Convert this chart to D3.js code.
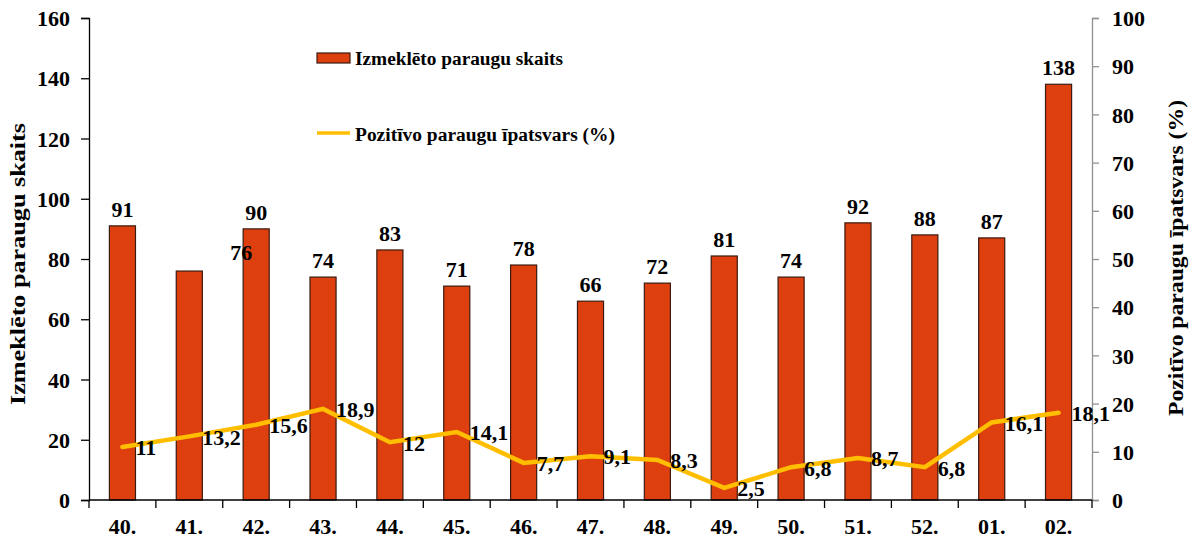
<!DOCTYPE html>
<html>
<head>
<meta charset="utf-8">
<script src="https://cdn.jsdelivr.net/npm/d3@7"></script>
<style>
  html, body { margin: 0; padding: 0; background: #fff; }
  text { font-family: "Liberation Serif", "Times New Roman", serif; font-weight: bold; fill: #000; }
</style>
</head>
<body>
<svg id="chart" width="1195" height="544"></svg>
<script>
// Weekly counts of examined samples and share of positive samples
const weeks = ["40.", "41.", "42.", "43.", "44.", "45.", "46.", "47.", "48.", "49.", "50.", "51.", "52.", "01.", "02."];
const samples = [91, 76, 90, 74, 83, 71, 78, 66, 72, 81, 74, 92, 88, 87, 138];
const positiveShare = [11, 13.2, 15.6, 18.9, 12, 14.1, 7.7, 9.1, 8.3, 2.5, 6.8, 8.7, 6.8, 16.1, 18.1];
const leftTicks = [0, 20, 40, 60, 80, 100, 120, 140, 160];
const rightTicks = [0, 10, 20, 30, 40, 50, 60, 70, 80, 90, 100];
const barName = "Izmeklēto paraugu skaits";
const lineName = "Pozitīvo paraugu īpatsvars (%)";

const svg = d3.select("#chart");
const plot = { left: 89, right: 1092, top: 18, bottom: 500 };

const x = d3.scaleBand().domain(weeks).range([plot.left, plot.right]).paddingInner(0.61).paddingOuter(0.305);
const xBand = d3.scaleBand().domain(weeks).range([plot.left, plot.right]);
const yL = d3.scaleLinear().domain([0, 160]).range([plot.bottom, plot.top]);
const yR = d3.scaleLinear().domain([0, 100]).range([plot.bottom, plot.top]);

const fmt = v => String(v).replace(".", ",");

// Bars
svg.append("g").selectAll("rect").data(samples).join("rect")
  .attr("x", (d, i) => x(weeks[i]))
  .attr("y", d => yL(d))
  .attr("width", x.bandwidth())
  .attr("height", d => yL(0) - yL(d))
  .attr("fill", "#DE3F0E")
  .attr("stroke", "#3a1a10")
  .attr("stroke-width", 1.2);

// Left axis
const gL = svg.append("g").attr("transform", `translate(${plot.left},0)`)
  .call(d3.axisLeft(yL).tickValues(leftTicks).tickSize(8).tickPadding(11));
gL.select(".domain").attr("stroke", "#000").attr("stroke-width", 1.3);
gL.selectAll(".tick line").attr("stroke", "#000").attr("stroke-width", 1.3);
gL.selectAll(".tick text").style("font-size", "22px").attr("dy", "0.35em");

// Right axis
const gR = svg.append("g").attr("transform", `translate(${plot.right},0)`)
  .call(d3.axisRight(yR).tickValues(rightTicks).tickSize(7).tickPadding(13));
gR.select(".domain").attr("stroke", "#909090").attr("stroke-width", 1.3);
gR.selectAll(".tick line").attr("stroke", "#909090").attr("stroke-width", 1.3);
gR.selectAll(".tick text").style("font-size", "22px").attr("dy", "0.35em");

// Bottom axis: ticks at category boundaries
const gB = svg.append("g").attr("transform", `translate(0,${plot.bottom})`);
gB.append("line").attr("x1", plot.left).attr("x2", plot.right).attr("stroke", "#000").attr("stroke-width", 1.3);
const bounds = weeks.map(w => xBand(w)).concat([plot.right]);
gB.selectAll("line.tk").data(bounds).join("line").attr("class", "tk")
  .attr("x1", d => d).attr("x2", d => d).attr("y1", 0).attr("y2", 8)
  .attr("stroke", "#000").attr("stroke-width", 1.3);
gB.selectAll("text").data(weeks).join("text")
  .attr("x", d => xBand(d) + xBand.bandwidth() / 2)
  .attr("y", 34)
  .attr("text-anchor", "middle")
  .style("font-size", "22px")
  .text(d => d);

// Bar value labels
svg.append("g").selectAll("text").data(samples).join("text")
  .attr("x", (d, i) => x(weeks[i]) + x.bandwidth() / 2 + (i === 1 ? 52 : 0))
  .attr("y", (d, i) => yL(d) - (i === 1 ? 11 : 9))
  .attr("text-anchor", "middle")
  .style("font-size", "22px")
  .text(d => d);

// Positive share line
const cx = i => xBand(weeks[i]) + xBand.bandwidth() / 2;
const line = d3.line().x((d, i) => cx(i)).y(d => yR(d));
svg.append("path").datum(positiveShare)
  .attr("d", line)
  .attr("fill", "none")
  .attr("stroke", "#FFBF00")
  .attr("stroke-width", 4.5)
  .attr("stroke-linejoin", "miter")
  .attr("stroke-linecap", "round");

svg.append("g").selectAll("text").data(positiveShare).join("text")
  .attr("x", (d, i) => cx(i) + 13)
  .attr("y", d => yR(d))
  .attr("dy", "0.38em")
  .style("font-size", "22px")
  .text(d => fmt(d));

// Axis titles
svg.append("text")
  .attr("transform", `translate(25,264) rotate(-90)`)
  .attr("text-anchor", "middle")
  .attr("textLength", 282)
  .attr("lengthAdjust", "spacingAndGlyphs")
  .style("font-size", "21px")
  .text(barName);
svg.append("text")
  .attr("transform", `translate(1183,258) rotate(-90)`)
  .attr("text-anchor", "middle")
  .attr("textLength", 316)
  .attr("lengthAdjust", "spacingAndGlyphs")
  .style("font-size", "21px")
  .text(lineName);

// Legend
const lg = svg.append("g");
lg.append("rect").attr("x", 317).attr("y", 53).attr("width", 33).attr("height", 10)
  .attr("fill", "#DE3F0E").attr("stroke", "#3a1a10").attr("stroke-width", 1.2);
lg.append("text").attr("x", 355).attr("y", 65).style("font-size", "18px")
  .attr("textLength", 208).attr("lengthAdjust", "spacingAndGlyphs").text(barName);
lg.append("line").attr("x1", 317).attr("x2", 350).attr("y1", 133).attr("y2", 133)
  .attr("stroke", "#FFBF00").attr("stroke-width", 3.5);
lg.append("text").attr("x", 355).attr("y", 141).style("font-size", "18px")
  .attr("textLength", 260).attr("lengthAdjust", "spacingAndGlyphs").text(lineName);
</script>
</body>
</html>
